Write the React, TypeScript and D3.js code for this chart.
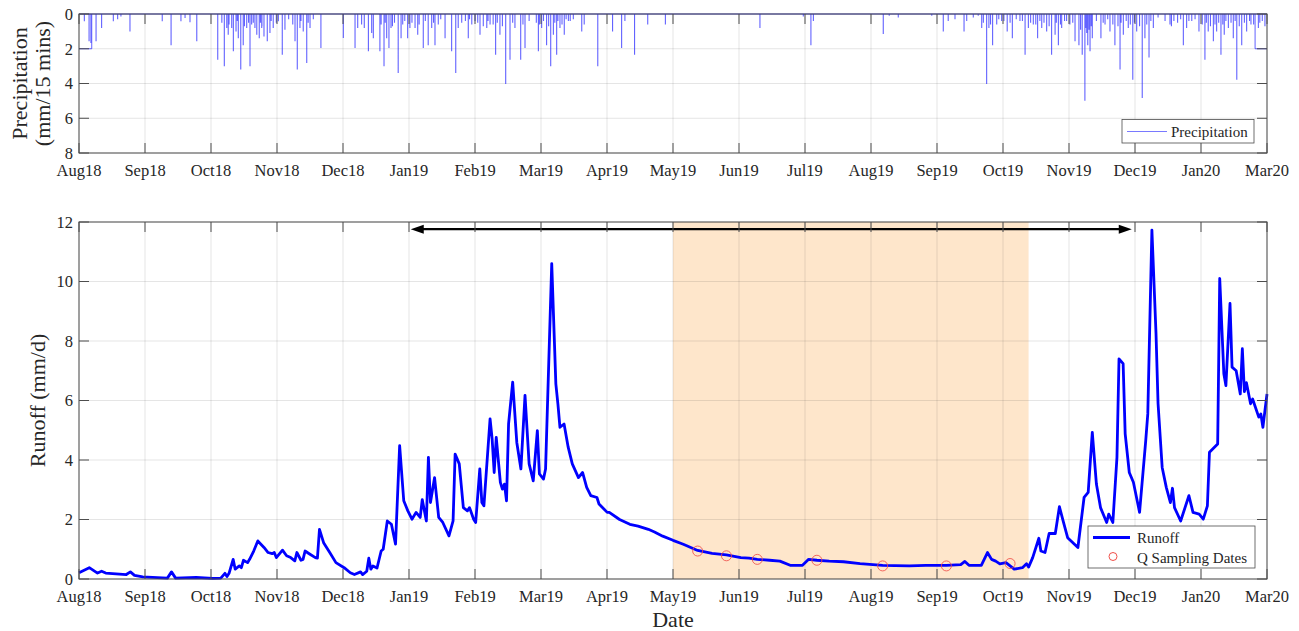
import * as d3 from 'd3';

// day offsets are counted from 1 Aug 2018 (UTC)
const START = Date.UTC(2018, 7, 1);
const DAY = 86400000;
const TOTAL_DAYS = 578; // 1 Aug 2018 -> 1 Mar 2020
const dayToDate = (d: number) => new Date(START + d * DAY);

const xTickLabels = [
  'Aug18', 'Sep18', 'Oct18', 'Nov18', 'Dec18', 'Jan19', 'Feb19', 'Mar19', 'Apr19', 'May19',
  'Jun19', 'Jul19', 'Aug19', 'Sep19', 'Oct19', 'Nov19', 'Dec19', 'Jan20', 'Mar20',
];
const precipTicks = [0, 2, 4, 6, 8];
const runoffTicks = [0, 2, 4, 6, 8, 10, 12];

// [day, runoff mm/d]
const runoff: [number, number][] = [
  [0, 0.21], [5, 0.38], [9, 0.2], [11, 0.26], [13, 0.2], [23, 0.15], [25, 0.24], [27, 0.12],
  [31, 0.07], [43, 0.03], [45, 0.24], [47, 0.03], [57, 0.05], [65, 0.02], [69, 0.03], [71, 0.19],
  [72, 0.08], [73, 0.19], [75, 0.66], [76, 0.33], [78, 0.44], [79, 0.38], [80, 0.63], [82, 0.55],
  [83, 0.66], [85, 0.94], [87, 1.28], [90, 1.06], [92, 0.89], [94, 0.85], [95, 0.89], [96, 0.72],
  [99, 0.97], [101, 0.78], [103, 0.72], [105, 0.61], [106, 0.89], [108, 0.63], [109, 0.66],
  [110, 0.94], [112, 0.85], [115, 0.72], [116, 0.7], [117, 1.67], [119, 1.22], [122, 0.89],
  [125, 0.55], [129, 0.38], [132, 0.21], [134, 0.15], [137, 0.24], [138, 0.15], [140, 0.26],
  [141, 0.7], [142, 0.33], [143, 0.44], [145, 0.37], [147, 0.94], [148, 1.0], [150, 1.95],
  [152, 1.84], [154, 1.17], [156, 4.48], [158, 2.63], [160, 2.29], [162, 2.01], [164, 2.24],
  [166, 2.07], [167, 2.67], [169, 1.95], [170, 4.09], [171, 2.57], [173, 3.41], [175, 2.07],
  [177, 1.9], [180, 1.45], [182, 1.95], [183, 4.2], [185, 3.87], [187, 2.4], [189, 2.29],
  [190, 2.4], [192, 2.01], [193, 1.9], [195, 3.7], [196, 2.57], [197, 2.46], [200, 5.38],
  [201, 4.71], [202, 3.58], [203, 4.76], [205, 3.25], [206, 3.02], [207, 3.19], [208, 2.63],
  [209, 5.21], [211, 6.62], [213, 4.59], [215, 3.7], [217, 6.17], [219, 3.87], [221, 3.3],
  [223, 4.99], [224, 3.53], [226, 3.36], [227, 3.7], [230, 10.6], [232, 6.56], [233, 5.89],
  [234, 5.1], [236, 5.21], [238, 4.43], [240, 3.87], [243, 3.41], [245, 3.58], [247, 3.08],
  [249, 2.8], [252, 2.74], [253, 2.52], [257, 2.24], [258, 2.24], [263, 2.0], [268, 1.84],
  [272, 1.78], [277, 1.67], [280, 1.58], [284, 1.44], [289, 1.3], [294, 1.17], [301, 0.96],
  [308, 0.86], [315, 0.81], [322, 0.72], [326, 0.7], [330, 0.66], [336, 0.63], [341, 0.6],
  [346, 0.46], [352, 0.46], [355, 0.66], [359, 0.63], [365, 0.6], [372, 0.58], [380, 0.52],
  [391, 0.46], [397, 0.45], [404, 0.44], [412, 0.46], [422, 0.46], [429, 0.48], [431, 0.59],
  [433, 0.46], [439, 0.46], [442, 0.89], [444, 0.66], [446, 0.6], [448, 0.51], [451, 0.55],
  [455, 0.33], [459, 0.38], [461, 0.51], [462, 0.4], [464, 0.72], [467, 1.37], [468, 0.94],
  [470, 0.89], [472, 1.53], [475, 1.53], [477, 2.43], [479, 1.9], [481, 1.39], [486, 1.06],
  [489, 2.74], [491, 2.91], [493, 4.93], [495, 3.19], [497, 2.4], [500, 1.9], [501, 2.18],
  [503, 1.9], [505, 4.09], [506, 7.4], [508, 7.24], [509, 4.88], [511, 3.58], [513, 3.25],
  [516, 2.24], [519, 4.65], [520, 5.55], [522, 11.73], [524, 8.25], [525, 5.89], [527, 3.75],
  [529, 3.08], [531, 2.57], [532, 3.05], [533, 2.4], [536, 1.95], [540, 2.8], [542, 2.24],
  [545, 2.18], [547, 2.01], [549, 2.46], [550, 4.26], [554, 4.54], [555, 10.1], [557, 6.9],
  [558, 6.5], [560, 9.26], [561, 7.12], [563, 7.0], [565, 6.22], [566, 7.74], [567, 6.3],
  [568, 6.6], [570, 5.89], [571, 6.05], [574, 5.44], [575, 5.55], [576, 5.1], [578, 6.22],
];

// Q sampling dates [day, runoff]
const samplingDates: [number, number][] = [
  [301, 0.94], [315, 0.78], [330, 0.66], [359, 0.63], [391, 0.44], [422, 0.44], [453, 0.52],
];

// 15-min precipitation peaks [day, mm/15 mins]
const precipSpikes: [number, number][] = [
  [2.6, 0.42], [4.9, 1.57], [5.8, 1.67], [8.3, 1.57], [11.0, 0.81], [16.7, 0.42], [18.8, 0.3],
  [20.4, 0.15], [24.8, 1.0], [40.5, 0.42], [44.8, 1.8], [49.6, 0.42], [51.6, 0.23], [54.0, 0.48],
  [57.3, 1.57], [67.5, 2.63], [69.5, 0.5], [70.7, 3.01], [71.9, 0.8], [72.6, 1.2], [73, 0.6],
  [74.3, 0.8], [75.1, 2.15], [76.4, 1.0], [77, 0.4], [77.5, 1.4], [78.7, 3.2], [79.9, 1.8],
  [80.5, 0.7], [81.6, 0.8], [82.5, 0.5], [83.2, 3.01], [84, 0.6], [84.8, 0.5], [85.6, 0.8],
  [86.5, 1.2], [87.7, 1.4], [88.3, 0.5], [88.9, 0.8], [89, 0.7], [90.0, 1.3], [91.6, 1.57],
  [92.9, 1.1], [93.5, 0.4], [94.5, 0.8], [96, 0.5], [97.0, 0.42], [98.9, 2.34], [100.2, 0.9],
  [102, 0.3], [104, 0.6], [105.1, 1.57], [106.2, 3.2], [107.5, 0.8], [108, 0.4], [109.1, 1.0],
  [110.8, 2.82], [111.5, 0.5], [112.4, 0.8], [114, 0.3], [117.7, 1.96], [128.6, 1.38],
  [134.3, 1.96], [135.6, 0.8], [137.5, 0.6], [138.8, 0.8], [140.8, 2.15], [142.4, 1.1],
  [143.2, 1.4], [146.4, 2.15], [147, 0.6], [148.4, 3.0], [149, 0.5], [149.7, 1.4], [150.8, 1.96],
  [151.8, 0.8], [152.5, 0.7], [153.5, 0.5], [155.3, 3.4], [156.7, 1.4], [157.5, 0.6], [158.5, 0.4],
  [159.9, 1.4], [161.0, 0.8], [162, 0.5], [163.5, 0.8], [164.8, 1.2], [165.5, 0.6], [167.5, 1.96],
  [168.5, 0.4], [169.9, 1.8], [171.6, 0.8], [172.5, 0.5], [173.2, 1.8], [174.8, 0.6], [176, 0.3],
  [178.1, 1.4], [181.3, 2.15], [183.3, 3.4], [184.5, 0.8], [186.2, 0.5], [188, 0.4], [189.4, 1.4],
  [190, 0.3], [191.1, 0.6], [192.7, 0.4], [194, 0.5], [195.1, 1.2], [196.7, 0.7], [198.4, 0.8],
  [199, 0.4], [200.0, 0.6], [201.5, 0.6], [202.7, 2.34], [203.5, 0.5], [204.8, 1.2], [206, 0.7],
  [207.6, 4.03], [209.7, 2.63], [211, 0.5], [212.1, 0.8], [214.9, 2.63], [216, 0.6], [217.0, 1.96],
  [219, 0.4], [222.5, 0.5], [223.5, 2.15], [224, 0.6], [225.1, 0.8], [226, 0.4], [227.5, 1.8],
  [228.5, 0.7], [229.5, 3.0], [230.8, 1.2], [231.5, 0.5], [232.4, 2.34], [233, 0.4], [234.0, 0.8],
  [235, 0.6], [236.1, 1.2], [237, 0.3], [238.1, 0.4], [239, 0.4], [240.5, 0.3], [244.6, 1.0],
  [245.8, 0.6], [252.4, 3.0], [259.6, 1.0], [264.0, 1.96], [265.6, 0.4], [270.3, 2.34],
  [276.7, 0.6], [285.3, 0.6], [331.3, 0.81], [352.4, 0.15], [356.1, 1.8], [357.3, 0.4],
  [391.3, 1.15], [394.2, 0.1], [398.6, 0.2], [414.9, 0.1], [420.5, 1.0], [422.9, 0.4], [426.2, 0.3],
  [430.6, 1.0], [431.9, 0.4], [435.1, 0.2], [437.5, 0.1], [439.2, 0.8], [440, 0.5], [441.6, 4.03],
  [442.7, 0.8], [443.5, 0.6], [444.5, 1.8], [446.5, 0.6], [447.5, 0.3], [448.9, 0.4], [450, 0.4],
  [451.6, 1.0], [453, 0.5], [454.1, 1.4], [456, 0.3], [457.8, 0.4], [459, 0.4], [460.3, 2.34],
  [461.9, 0.8], [463, 0.5], [464.3, 0.6], [465.5, 0.6], [466.4, 1.4], [467.5, 0.4], [468.4, 0.8],
  [469.5, 0.5], [470.8, 1.0], [472, 0.7], [473.2, 2.34], [474.9, 1.2], [475.5, 0.5], [476.5, 1.8],
  [477.5, 0.6], [478.1, 0.8], [479.5, 0.4], [480.5, 0.4], [482.1, 0.6], [483.5, 0.5], [484.6, 1.57],
  [486.5, 1.8], [487.3, 0.9], [488.1, 2.34], [489.4, 4.99], [489.9, 0.8], [490.3, 1.1], [490.8, 1.8],
  [491.4, 0.9], [491.9, 2.15], [492.5, 0.7], [493.0, 1.4], [495, 0.4], [497.2, 1.4], [498.3, 0.5],
  [499.2, 0.6], [500.5, 0.3], [501.6, 1.0], [503, 0.6], [504.0, 1.8], [505.5, 0.7], [506.5, 3.2],
  [507, 0.5], [508.1, 1.2], [509.5, 0.4], [510.5, 0.8], [511.5, 0.6], [512.7, 3.78], [513.5, 0.5],
  [514.6, 1.0], [516, 0.7], [517.3, 4.84], [518.6, 1.4], [519.5, 0.6], [520.6, 2.5], [521.5, 0.4],
  [522.7, 0.8], [525, 0.2], [528.4, 0.4], [530.8, 0.6], [531.5, 0.7], [532.7, 0.4], [534.5, 0.5],
  [536, 0.3], [537.3, 1.8], [538.9, 0.8], [540, 0.4], [541.4, 0.4], [543, 0.3], [544.9, 1.0],
  [546.5, 0.6], [547.8, 2.63], [548.5, 0.5], [549.4, 1.0], [550.5, 0.7], [551.9, 1.57],
  [552.7, 0.6], [553.5, 1.0], [554.5, 0.5], [555.6, 2.34], [556.5, 0.6], [557.2, 1.2], [558, 0.4],
  [559.2, 0.8], [560.5, 0.5], [561.6, 1.4], [562.5, 0.4], [563.3, 3.78], [564.5, 0.7], [565.7, 1.8],
  [567, 0.5], [568.1, 1.0], [569.5, 0.4], [570.2, 0.6], [571.5, 0.6], [573.8, 0.8], [574.5, 0.5],
  [575.7, 0.4], [577, 0.7],
];

// stretches of the record where the precipitation line sits at a constant level
const precipGaps: [number, number][][] = [
  [[0, 2], [6.2, 2], [6.2, 0]],
  [[572.2, 0], [572.2, 2], [578, 2]],
];

const shadedPeriod: [number, number] = [289, 462];
const arrowSpan = { from: 161.4, to: 512.2, level: 11.76 };

const FONT = "'Liberation Serif', 'Times New Roman', serif";
const AXIS = '#4d4d4d';
const TEXT = '#262626';
const PRECIP = '#2020ff';

export default function App() {
  const W = 1299;
  const H = 631;
  const left = 79;
  const right = 1267;
  const top1 = 14;
  const bot1 = 153;
  const top2 = 222;
  const bot2 = 579;
  const tickLen = 10;

  const x = d3.scaleUtc().domain([dayToDate(0), dayToDate(TOTAL_DAYS)]).range([left, right]);
  const yP = d3.scaleLinear().domain([0, 8]).range([top1, bot1]);
  const yR = d3.scaleLinear().domain([0, 12]).range([bot2, top2]);
  const xd = (d: number) => x(dayToDate(d));

  const xTicks = xTickLabels.map((label, i) => ({
    label,
    pos: xd((i * TOTAL_DAYS) / (xTickLabels.length - 1)),
  }));

  const spikePath = precipSpikes.map(([d, v]) => `M${xd(d)},${yP(0)}V${yP(v)}`).join('');
  const gapLine = d3.line<[number, number]>().x(p => xd(p[0])).y(p => yP(p[1]));
  const runoffLine = d3
    .line<[number, number]>()
    .x(p => xd(p[0]))
    .y(p => yR(p[1]));

  const grid = (top: number, bottom: number, yTicks: number[], y: (v: number) => number) => (
    <g>
      {xTicks.map(t => (
        <line key={`gx${t.label}`} x1={t.pos} x2={t.pos} y1={top} y2={bottom} stroke="#262626" strokeOpacity={0.12} />
      ))}
      {yTicks.map(v => (
        <line key={`gy${v}`} x1={left} x2={right} y1={y(v)} y2={y(v)} stroke="#262626" strokeOpacity={0.12} />
      ))}
    </g>
  );

  const frame = (top: number, bottom: number, yTicks: number[], y: (v: number) => number, labelY: number) => (
    <g>
      <rect x={left} y={top} width={right - left} height={bottom - top} fill="none" stroke={AXIS} strokeWidth={1} />
      {xTicks.map(t => (
        <g key={`t${t.label}`}>
          <line x1={t.pos} x2={t.pos} y1={bottom} y2={bottom - tickLen} stroke={AXIS} />
          <line x1={t.pos} x2={t.pos} y1={top} y2={top + tickLen} stroke={AXIS} />
          <text x={t.pos} y={labelY} textAnchor="middle" fontSize={16.5} fill={TEXT}>
            {t.label}
          </text>
        </g>
      ))}
      {yTicks.map(v => (
        <g key={`y${v}`}>
          <line x1={left} x2={left + tickLen} y1={y(v)} y2={y(v)} stroke={AXIS} />
          <line x1={right} x2={right - tickLen} y1={y(v)} y2={y(v)} stroke={AXIS} />
          <text x={left - 6} y={y(v)} dy="0.35em" textAnchor="end" fontSize={16.5} fill={TEXT}>
            {v}
          </text>
        </g>
      ))}
    </g>
  );

  const ax0 = xd(arrowSpan.from);
  const ax1 = xd(arrowSpan.to);
  const ay = yR(arrowSpan.level);
  const head = 13;
  const half = 4.5;

  return (
    <div style={{ position: 'absolute', left: 0, top: 0 }}>
      <svg width={W} height={H} fontFamily={FONT} style={{ display: 'block', background: '#fff' }}>
        {/* precipitation panel */}
        {grid(top1, bot1, precipTicks, yP)}
        <path d={spikePath} stroke={PRECIP} strokeOpacity={0.7} strokeWidth={1.1} fill="none" />
        {precipGaps.map((g, i) => (
          <path key={i} d={gapLine(g) ?? ''} stroke={PRECIP} strokeOpacity={0.7} fill="none" />
        ))}
        <line x1={left} x2={right} y1={yP(0)} y2={yP(0)} stroke={PRECIP} strokeOpacity={0.7} strokeWidth={1.2} />
        {frame(top1, bot1, precipTicks, yP, 176)}
        <g>
          <rect x={1122} y={119.5} width={132} height={23.5} fill="#fff" stroke={AXIS} strokeWidth={0.8} />
          <line x1={1127} x2={1167} y1={131.5} y2={131.5} stroke={PRECIP} strokeOpacity={0.6} />
          <text x={1171} y={136.5} fontSize={15} fill={TEXT}>
            Precipitation
          </text>
        </g>
        <text transform={`translate(27,${(top1 + bot1) / 2}) rotate(-90)`} textAnchor="middle" fontSize={22} fill={TEXT}>
          Precipitation
        </text>
        <text transform={`translate(50,${(top1 + bot1) / 2}) rotate(-90)`} textAnchor="middle" fontSize={22} fill={TEXT}>
          (mm/15 mins)
        </text>

        {/* runoff panel */}
        <rect
          x={xd(shadedPeriod[0])}
          y={top2}
          width={xd(shadedPeriod[1]) - xd(shadedPeriod[0])}
          height={bot2 - top2}
          fill="#fee6cb"
        />
        {grid(top2, bot2, runoffTicks, yR)}
        <g>
          <line x1={ax0 + head - 2} x2={ax1 - head + 2} y1={ay} y2={ay} stroke="#000" strokeWidth={2.2} />
          <path d={`M${ax0},${ay}L${ax0 + head},${ay - half}L${ax0 + head},${ay + half}Z`} fill="#000" />
          <path d={`M${ax1},${ay}L${ax1 - head},${ay - half}L${ax1 - head},${ay + half}Z`} fill="#000" />
        </g>
        <path d={runoffLine(runoff) ?? ''} stroke="#0000ff" strokeWidth={2.8} fill="none" strokeLinejoin="round" />
        {samplingDates.map(([d, v]) => (
          <circle key={d} cx={xd(d)} cy={yR(v)} r={5} fill="none" stroke="#f0504a" strokeOpacity={0.85} strokeWidth={1} />
        ))}
        {frame(top2, bot2, runoffTicks, yR, 602)}
        <g>
          <rect x={1088} y={526} width={167} height={42} fill="#fff" stroke={AXIS} strokeWidth={0.8} />
          <line x1={1093} x2={1130} y1={537.5} y2={537.5} stroke="#0000ff" strokeWidth={2.8} />
          <text x={1137} y={543} fontSize={15} fill={TEXT}>
            Runoff
          </text>
          <circle cx={1113} cy={556.5} r={4} fill="none" stroke="#f0504a" strokeWidth={1} />
          <text x={1137} y={562.5} fontSize={15} fill={TEXT}>
            Q Sampling Dates
          </text>
        </g>
        <text transform={`translate(45,${(top2 + bot2) / 2}) rotate(-90)`} textAnchor="middle" fontSize={22} fill={TEXT}>
          Runoff (mm/d)
        </text>
        <text x={(left + right) / 2} y={627} textAnchor="middle" fontSize={22} fill={TEXT}>
          Date
        </text>
      </svg>
    </div>
  );
}
